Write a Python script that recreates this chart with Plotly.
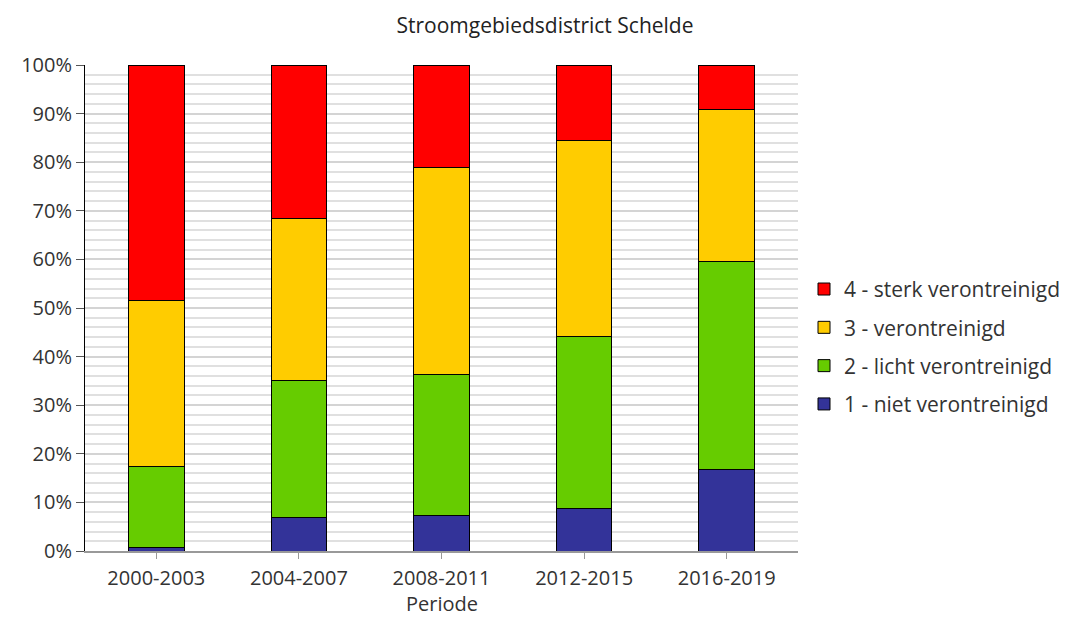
import plotly.graph_objects as go

periods = ["2000-2003", "2004-2007", "2008-2011", "2012-2015", "2016-2019"]
niet = [0.8, 6.8, 7.4, 8.8, 16.7]
licht = [16.5, 28.2, 29.0, 35.4, 42.8]
veront = [34.3, 33.5, 42.6, 40.2, 31.4]
sterk = [48.4, 31.5, 21.0, 15.6, 9.1]
x_title = "Periode"

series = [
    ("1 - niet verontreinigd", niet, "#333399"),
    ("2 - licht verontreinigd", licht, "#66CC00"),
    ("3 - verontreinigd", veront, "#FFCC00"),
    ("4 - sterk verontreinigd", sterk, "#FF0000"),
]

fig = go.Figure()
for i, (name, vals, col) in enumerate(series):
    fig.add_trace(go.Bar(
        x=periods, y=vals, name=name, legendgroup=name, legendrank=10 - i,
        marker=dict(color=col, line=dict(color="#000000", width=1)),
        width=0.39,
    ))

W, H = 1058, 609
L, T, PW, PH = 77, 57, 713, 486
font_family = "Open Sans, Noto Sans, sans-serif"
fig.update_layout(
    barmode="stack",
    width=W, height=H,
    margin=dict(l=L, r=W - L - PW, t=T, b=H - T - PH, autoexpand=False),
    paper_bgcolor="white", plot_bgcolor="white",
    font=dict(family=font_family, color="#333333", size=20),
    title=dict(text="Stroomgebiedsdistrict Schelde", x=537 / W, xanchor="center",
               y=1 - 18 / H, yanchor="middle", font=dict(size=21, color="#222222")),
    legend=dict(traceorder="grouped", x=(804 - 8 - L) / PW, xanchor="left",
                y=0.42, yanchor="middle",
                font=dict(size=21, color="#333333"), itemwidth=30, tracegroupgap=8,
                bgcolor="rgba(0,0,0,0)"),
    showlegend=True,
    annotations=[dict(text=x_title, xref="paper", yref="paper", x=0.5, y=0,
                      xanchor="center", yanchor="middle", yshift=-52, showarrow=False,
                      font=dict(size=20, color="#333333"))],
)
fig.update_xaxes(
    showline=True, linecolor="#999999", linewidth=2,
    ticks="outside", ticklen=6, tickcolor="#999999",
    ticklabelstandoff=2, automargin=False,
    tickfont=dict(size=20),
)
fig.update_yaxes(
    range=[0, 100], dtick=10, ticksuffix="%",
    showline=True, linecolor="#000000", linewidth=1,
    ticks="outside", ticklen=8, tickcolor="#555555",
    showgrid=True, gridcolor="#d4d4d4", gridwidth=2,
    minor=dict(dtick=2, showgrid=True, gridcolor="#e0e0e0", gridwidth=2),
    tickfont=dict(size=20), automargin=False,
    zeroline=False,
)
fig.write_html("out.html")
